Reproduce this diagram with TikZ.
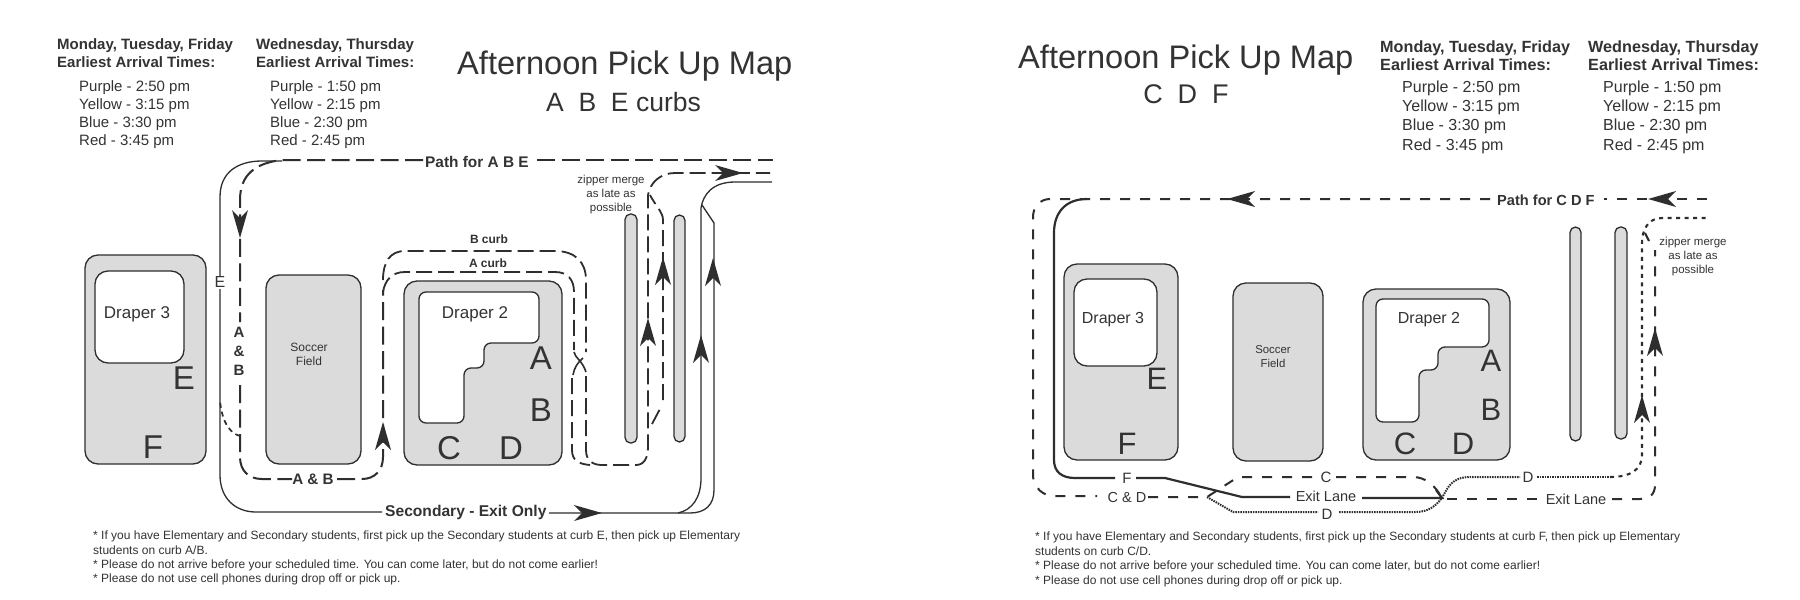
\documentclass[tikz,border=0pt]{standalone}
\usepackage{fontspec}
\setmainfont{Liberation Sans}
\definecolor{ink}{HTML}{2E2E2E}
\definecolor{txt}{HTML}{333333}
\definecolor{bldg}{HTML}{DBDBDB}
\tikzset{
  fs/.style={font=\fontsize{#1}{#1}\selectfont,text=txt,inner sep=0pt},
  fb/.style={font=\bfseries\fontsize{#1}{#1}\selectfont,text=txt,inner sep=0pt},
  bw/.style={anchor=base west},
  bldgbox/.style={draw=ink,fill=bldg,line width=1.3pt,rounded corners=#1},
  hole/.style={draw=ink,fill=white,line width=1.3pt,rounded corners=#1},
  isle/.style={draw=ink,fill=bldg,line width=1.3pt,rounded corners=5.5pt},
  thinline/.style={draw=ink,line width=1.3pt},
  thickline/.style={draw=ink,line width=2.2pt},
  dashlong/.style={draw=ink,line width=2pt,dash pattern=on 18pt off 6.5pt},
  dashcurb/.style={draw=ink,line width=1.8pt,dash pattern=on 16pt off 6pt},
  dashshort/.style={draw=ink,line width=2pt,dash pattern=on 10pt off 10pt},
  dashtiny/.style={draw=ink,line width=1.7pt,dash pattern=on 5pt off 4pt},
  dotfine/.style={draw=ink,line width=2pt,dash pattern=on 1.5pt off 1pt},
  dotmid/.style={draw=ink,line width=2.1pt,dash pattern=on 4pt off 4.5pt},
  headfill/.style={fill=ink,draw=none},
}
\newcommand{\headV}[3]{\fill[headfill,shift={(#1,#2)},yscale=#3] (0,0) -- (8,28) -- (0,20) -- (-8,28) -- cycle;}
\newcommand{\headH}[3]{\fill[headfill,shift={(#1,#2)},xscale=#3] (0,0) -- (28,8) -- (20,0) -- (28,-8) -- cycle;}
\begin{document}
\begin{tikzpicture}[x=1pt,y=-1pt]
\fill[white] (0,0) rectangle (1800,600);
\useasboundingbox (0,0) rectangle (1800,600);

%%% LEFT PANEL
\node[fb=15,bw] (lh1) at (57,49) {Monday, Tuesday, Friday};
\node[fb=15,bw] (lh2) at (57,67) {Earliest Arrival Times:};
\node[fs=15,bw] (la1) at (79,91) {Purple - 2:50 pm};
\node[fs=15,bw] (la2) at (79,109) {Yellow - 3:15 pm};
\node[fs=15,bw] (la3) at (79,127) {Blue - 3:30 pm};
\node[fs=15,bw] (la4) at (79,145) {Red - 3:45 pm};
\node[fb=15,bw] (lh3) at (256,49) {Wednesday, Thursday};
\node[fb=15,bw] (lh4) at (256,67) {Earliest Arrival Times:};
\node[fs=15,bw] (lb1) at (270,91) {Purple - 1:50 pm};
\node[fs=15,bw] (lb2) at (270,109) {Yellow - 2:15 pm};
\node[fs=15,bw] (lb3) at (270,127) {Blue - 2:30 pm};
\node[fs=15,bw] (lb4) at (270,145) {Red - 2:45 pm};
\node[fs=32.6,bw] (ltitle) at (457,74) {Afternoon Pick Up Map};
\node[fs=26.5,bw] (lsub) at (546,111) {A\ \ B\ \ E curbs};

% buildings
\draw[bldgbox=13pt] (85,255) rectangle (206,464);
\draw[hole=13pt] (95,271) rectangle (184,363);
\node[fs=17] (ld3) at (137,314) {Draper 3};
\node[fs=33] (lE) at (184,378) {E};
\node[fs=33] (lF) at (153,447) {F};
\draw[bldgbox=13pt] (266,275) rectangle (361,464);
\node[fs=12,anchor=base] (ls1) at (309,351) {Soccer};
\node[fs=12,anchor=base] (ls2) at (309,365) {Field};
\draw[bldgbox=13pt] (404,281) rectangle (562,465);
\draw[hole=7pt] (419,292) -- (539,292) -- (539,343) -- (484,343) -- (484,368) -- (464,368) -- (464,423) -- (419,423) -- cycle;
\node[fs=17] (ld2) at (475,314) {Draper 2};
\node[fs=33] (lA) at (541,358) {A};
\node[fs=33] (lB) at (541,410) {B};
\node[fs=33] (lC) at (449,448) {C};
\node[fs=33] (lD) at (511,448) {D};
\draw[isle] (625,214) rectangle (637,443);
\draw[isle] (674,215) rectangle (685,442);

% solid secondary path
\draw[thinline] (282,161) -- (262,161) .. controls (238,161) and (220,172) .. (220,197) -- (220,276);
\draw[thinline] (220,289) -- (220,475) .. controls (220,498) and (235,512) .. (256,512) -- (382,512);
\node[fs=16] (lElabel) at (220,282) {E};
\node[fb=15.6,bw] (lsec) at (385,516) {Secondary - Exit Only};
\draw[thinline] (549,513) -- (690,513) .. controls (705,513) and (714,505) .. (714,490) -- (714,223) -- (702,205);
\draw[thinline] (678,513) .. controls (692,510) and (701,498) .. (701,478) -- (701,208) .. controls (703,195) and (712,182) .. (735,182) -- (772,182);
\headH{602}{513}{-1}
\headV{701}{335}{1}
\headV{713}{258}{1}

% dashed path
\node[fb=15.4,bw] (lpath) at (425,167) {Path for A B E};
\draw[dashlong] (537,160) -- (773,160);
\draw[dashlong] (423,160) -- (282,160) .. controls (255,163) and (240,175) .. (240,200) -- (240,322);
\node[fb=15,anchor=center] (la) at (239,332) {A};
\node[fb=15,anchor=center] (lamp) at (239,351) {\&};
\node[fb=15,anchor=center] (lb) at (239,370) {B};
\draw[dashlong] (240,385) -- (240,457) .. controls (240,470) and (248,479) .. (262,479) -- (292,479);
\node[fb=15.2] (lab) at (313,479) {A \& B};
\draw[dashlong] (337,479) -- (362,479) .. controls (375,479) and (383,470) .. (383,457) -- (383,290);
\headV{240}{238}{-1}
\headV{383}{422}{1}
\draw[dashtiny] (240,436) .. controls (232,434) and (222,425) .. (220,400);
\node[fb=12] (lbc) at (489,239) {B curb};
\node[fb=12] (lac) at (488,263) {A curb};
\draw[dashcurb] (383,280) .. controls (383,262) and (390,251) .. (405,251) -- (555,251) .. controls (575,251) and (586,262) .. (586,280) -- (586,352);
\draw[draw=ink,line width=1.6pt] (574,352) .. controls (575,358) and (582,360) .. (586,372);
\draw[draw=ink,line width=1.6pt] (583,358) .. controls (578,362) and (574,368) .. (573,375);
\draw[dashcurb] (572,378) -- (572,450) .. controls (572,460) and (578,464) .. (590,465);
\draw[dashcurb] (383,292) .. controls (385,280) and (392,272) .. (405,272) -- (555,272) .. controls (568,272) and (574,280) .. (574,292) -- (574,350);
\draw[dashcurb] (586,376) -- (586,450) .. controls (586,460) and (592,465) .. (602,465) -- (636,465) .. controls (644,465) and (648,458) .. (648,447) -- (648,195) .. controls (650,183) and (660,173) .. (675,173) -- (770,173);
\draw[dashcurb] (652,424) -- (661,407);
\draw[dashcurb] (663,400) -- (663,220) .. controls (663,212) and (655,205) .. (650,195);
\headV{648}{318}{1}
\headV{663}{257}{1}
\headH{743}{173}{-1}
\node[fs=11.5,anchor=base] (lz1) at (611,183) {zipper merge};
\node[fs=11.5,anchor=base] (lz2) at (611,197) {as late as};
\node[fs=11.5,anchor=base] (lz3) at (611,211) {possible};

\node[fs=12,bw] (ln1) at (93,539) {* If you have Elementary and Secondary students, first pick up the Secondary students at curb E, then pick up Elementary};
\node[fs=12,bw] (ln2) at (93,554) {students on curb A/B.};
\node[fs=12,bw] (ln3) at (93,568) {* Please do not arrive before your scheduled time. You can come later, but do not come earlier!};
\node[fs=12,bw] (ln4) at (93,582) {* Please do not use cell phones during drop off or pick up.};

%%% RIGHT PANEL
\node[fs=32.6,bw] (rtitle) at (1018,68) {Afternoon Pick Up Map};
\node[fs=27,anchor=base] (rsub) at (1186,103) {C\ \ D\ \ F};
\node[fb=16.2,bw] (rh1) at (1380,52) {Monday, Tuesday, Friday};
\node[fb=16.2,bw] (rh2) at (1380,70) {Earliest Arrival Times:};
\node[fs=16,bw] (ra1) at (1402,92) {Purple - 2:50 pm};
\node[fs=16,bw] (ra2) at (1402,111) {Yellow - 3:15 pm};
\node[fs=16,bw] (ra3) at (1402,130) {Blue - 3:30 pm};
\node[fs=16,bw] (ra4) at (1402,150) {Red - 3:45 pm};
\node[fb=16.2,bw] (rh3) at (1588,52) {Wednesday, Thursday};
\node[fb=16.2,bw] (rh4) at (1588,70) {Earliest Arrival Times:};
\node[fs=16,bw] (rb1) at (1603,92) {Purple - 1:50 pm};
\node[fs=16,bw] (rb2) at (1603,111) {Yellow - 2:15 pm};
\node[fs=16,bw] (rb3) at (1603,130) {Blue - 2:30 pm};
\node[fs=16,bw] (rb4) at (1603,150) {Red - 2:45 pm};

\draw[bldgbox=13pt] (1064,264) rectangle (1178,460);
\draw[hole=13pt] (1074,279) rectangle (1157,366);
\node[fs=16] (rd3) at (1113,320) {Draper 3};
\node[fs=31] (rE) at (1157,379) {E};
\node[fs=31] (rF) at (1127,444) {F};
\draw[bldgbox=13pt] (1233,283) rectangle (1323,461);
\node[fs=11.4,anchor=base] (rs1) at (1273,353) {Soccer};
\node[fs=11.4,anchor=base] (rs2) at (1273,367) {Field};
\draw[bldgbox=13pt] (1363,289) rectangle (1510,460);
\draw[hole=7pt] (1376,299) -- (1489,299) -- (1489,347) -- (1438,347) -- (1438,370) -- (1419,370) -- (1419,422) -- (1376,422) -- cycle;
\node[fs=16] (rd2) at (1429,320) {Draper 2};
\node[fs=31] (rA) at (1491,361) {A};
\node[fs=31] (rB) at (1491,410) {B};
\node[fs=31] (rC) at (1405,444) {C};
\node[fs=31] (rD) at (1463,444) {D};
\draw[isle] (1570,227) rectangle (1581,441);
\draw[isle] (1615,227) rectangle (1627,439);

% dashed approach
\node[fb=14.6,bw] (rpath) at (1497,205) {Path for C D F};
\draw[dashshort] (1707,199) -- (1604,199);
\draw[dashshort] (1490,199) -- (1050,199) .. controls (1040,199) and (1033,207) .. (1033,217) -- (1033,477) .. controls (1035,488) and (1042,496) .. (1055,496) -- (1097,496);
\headH{1648}{199}{1}
\headH{1227}{199}{1}
\node[fs=14.5] (rcd) at (1127,498) {C \& D};
\draw[dashshort] (1148,497) -- (1207,497) -- (1238,477) -- (1316,477);
\node[fs=15] (rc) at (1326,477) {C};
\draw[dashshort] (1336,477) -- (1413,477) .. controls (1425,477) and (1435,485) .. (1442,498);
\draw[dashshort] (1447,499) -- (1538,499);
\node[fs=14.5] (rex2) at (1576,499) {Exit Lane};
\draw[dashshort] (1612,499) -- (1640,499) .. controls (1650,499) and (1655,494) .. (1655,485) -- (1655,250);
\headV{1655}{328}{1}

% solid exit path
\draw[thickline] (1087,199) .. controls (1066,199) and (1054,212) .. (1054,233) -- (1054,460) .. controls (1054,472) and (1062,478) .. (1075,478) -- (1115,478);
\node[fs=15] (rF2) at (1127,478) {F};
\draw[thickline] (1136,478) -- (1165,478) -- (1242,497) -- (1290,497);
\node[fs=14.5] (rex1) at (1326,496) {Exit Lane};
\draw[thickline] (1362,498) -- (1442,498) -- (1436,490);

% dotted path
\draw[dotfine] (1207,497) -- (1233,512) -- (1318,512);
\node[fs=15] (rd1) at (1327,514) {D};
\draw[dotfine] (1339,512) -- (1415,512) .. controls (1430,512) and (1436,505) .. (1442,498) .. controls (1448,487) and (1452,477) .. (1470,477) -- (1520,477);
\node[fs=15] (rd4) at (1528,477) {D};
\draw[dotfine] (1537,477) -- (1610,477);
\draw[dotmid] (1610,477) .. controls (1630,477) and (1642,470) .. (1642,455) -- (1642,243) .. controls (1642,230) and (1648,218) .. (1662,218) -- (1706,218);
\draw[thickline] (1645,233) -- (1649,241);
\headV{1642}{395}{1}

\node[fs=11.5,anchor=base] (rz1) at (1693,245) {zipper merge};
\node[fs=11.5,anchor=base] (rz2) at (1693,259) {as late as};
\node[fs=11.5,anchor=base] (rz3) at (1693,273) {possible};

\node[fs=12,bw] (rn1) at (1035,540) {* If you have Elementary and Secondary students, first pick up the Secondary students at curb F, then pick up Elementary};
\node[fs=12,bw] (rn2) at (1035,555) {students on curb C/D.};
\node[fs=12,bw] (rn3) at (1035,569) {* Please do not arrive before your scheduled time. You can come later, but do not come earlier!};
\node[fs=12,bw] (rn4) at (1035,584) {* Please do not use cell phones during drop off or pick up.};
\end{tikzpicture}
\end{document}
